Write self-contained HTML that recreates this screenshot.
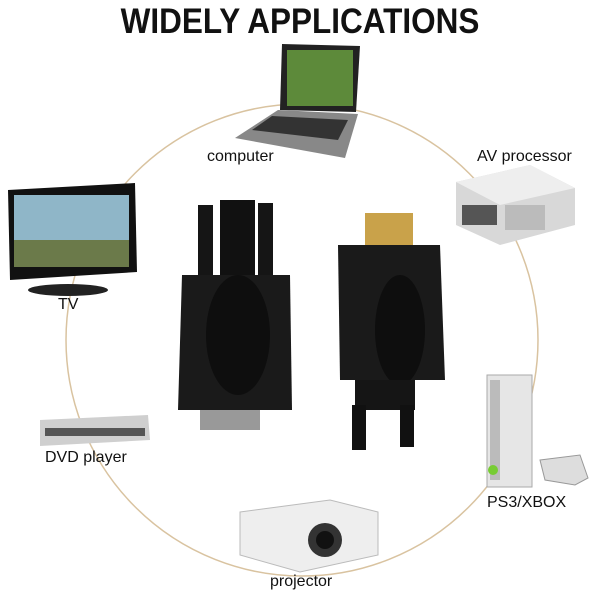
<!DOCTYPE html>
<html><head><meta charset="utf-8"><style>
body{margin:0;width:600px;height:600px;background:#fff;position:relative;overflow:hidden;font-family:"Liberation Sans",sans-serif}
.a{position:absolute}
.l{position:absolute;font-size:16px;color:#111}
</style></head><body>
<div class="a" style="left:0;top:0;width:600px;text-align:center;font-size:35px;font-weight:bold;top:2px;transform:scaleX(0.9);color:#111">WIDELY APPLICATIONS</div>
<svg class="a" style="left:0;top:0" width="600" height="600">
<circle cx="302" cy="340" r="236" fill="none" stroke="#d9c3a0" stroke-width="1.5"/>
<!-- laptop -->
<path d="M282 44 L360 46 L356 112 L280 110 Z" fill="#222"/>
<rect x="287" y="50" width="66" height="56" fill="#5d8a3a"/>
<path d="M278 110 L358 114 L345 158 L235 138 Z" fill="#888"/>
<path d="M272 116 L348 120 L338 140 L252 130 Z" fill="#333"/>
<!-- AV box -->
<path d="M456 182 L530 165 L575 188 L575 225 L500 245 L456 225 Z" fill="#d8d8d8"/>
<path d="M456 182 L530 165 L575 188 L500 205 Z" fill="#eee"/>
<rect x="462" y="205" width="35" height="20" fill="#555"/>
<rect x="505" y="205" width="40" height="25" fill="#bbb"/>
<!-- TV -->
<path d="M8 190 L135 183 L137 272 L10 280 Z" fill="#111"/>
<rect x="14" y="195" width="115" height="72" fill="#8fb6c8"/>
<rect x="14" y="240" width="115" height="27" fill="#6b7a4a"/>
<ellipse cx="68" cy="290" rx="40" ry="6" fill="#222"/>
<!-- DVD -->
<path d="M40 420 L148 415 L150 440 L40 446 Z" fill="#cfcfcf"/>
<rect x="45" y="428" width="100" height="8" fill="#555"/>
<!-- xbox -->
<rect x="487" y="375" width="45" height="112" fill="#e6e6e6" stroke="#aaa"/>
<rect x="490" y="380" width="10" height="100" fill="#bbb"/>
<circle cx="493" cy="470" r="5" fill="#7c3"/>
<path d="M540 460 L580 455 L588 478 L575 485 L545 480 Z" fill="#ddd" stroke="#999"/>
<!-- projector -->
<path d="M240 512 L330 500 L378 512 L378 555 L300 572 L240 555 Z" fill="#eee" stroke="#bbb"/>
<circle cx="325" cy="540" r="17" fill="#333"/>
<circle cx="325" cy="540" r="9" fill="#111"/>
<!-- left connector -->
<rect x="220" y="200" width="35" height="80" fill="#111"/>
<rect x="198" y="205" width="15" height="75" fill="#151515"/>
<rect x="258" y="203" width="15" height="77" fill="#151515"/>
<path d="M182 275 L290 275 L292 410 L178 410 Z" fill="#1a1a1a"/>
<ellipse cx="238" cy="335" rx="32" ry="60" fill="#0e0e0e"/>
<rect x="200" y="410" width="60" height="20" fill="#999"/>
<!-- right connector -->
<rect x="365" y="213" width="48" height="35" fill="#c9a24a"/>
<path d="M338 245 L440 245 L445 380 L340 380 Z" fill="#1a1a1a"/>
<ellipse cx="400" cy="330" rx="25" ry="55" fill="#0e0e0e"/>
<rect x="355" y="380" width="60" height="30" fill="#151515"/>
<rect x="352" y="405" width="14" height="45" fill="#111"/>
<rect x="400" y="405" width="14" height="42" fill="#111"/>
</svg>
<div class="l" style="left:207px;top:148px">computer</div>
<div class="l" style="left:477px;top:148px">AV processor</div>
<div class="l" style="left:58px;top:296px">TV</div>
<div class="l" style="left:45px;top:449px">DVD player</div>
<div class="l" style="left:487px;top:494px">PS3/XBOX</div>
<div class="l" style="left:270px;top:573px">projector</div>
</body></html>
